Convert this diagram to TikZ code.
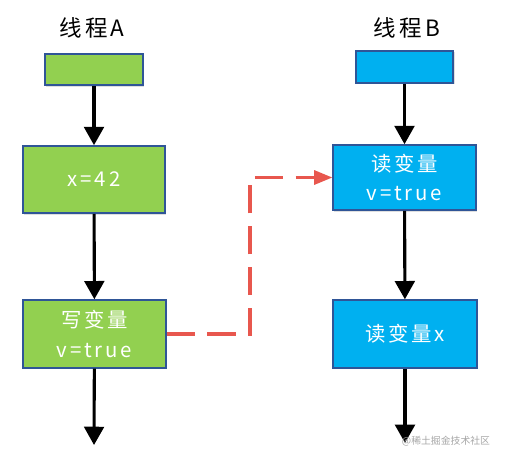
\documentclass[tikz,border=0pt]{standalone}
\usepackage{fontspec}
\newfontfamily\cjk{Noto Sans CJK SC}
\newfontfamily\cjkwide{Noto Sans CJK SC}[LetterSpace=14]
\usetikzlibrary{positioning,arrows.meta,shadows}
\definecolor{threadgreen}{HTML}{92D050}
\definecolor{threadblue}{HTML}{00B0F0}
\definecolor{boxedge}{HTML}{2F5597}
\definecolor{flowred}{HTML}{E8574E}
\tikzset{
  title/.style={font=\cjkwide\fontsize{16}{18}\selectfont},
  box/.style={draw=boxedge,line width=1pt,text=white,align=center,
    font=\cjkwide\fontsize{14.5}{21}\selectfont,drop shadow={opacity=0.25,shadow xshift=1pt,shadow yshift=-1pt}},
  greenbox/.style={box,fill=threadgreen},
  bluebox/.style={box,fill=threadblue},
  flow/.style={->,line width=2.2pt},
  signal/.style={->,line width=2.2pt,draw=flowred,dash pattern=on 20pt off 9pt,
    >={Triangle[width=10pt,length=13pt]}}
}
\begin{document}
\begin{tikzpicture}[x=0.025cm,y=-0.025cm,>={Triangle[width=14pt,length=13pt]}]
        \useasboundingbox (0,0) rectangle (505,460);
        % thread A
        \node[title] (titleA) at (92,28) {线程A};
        \node[greenbox,minimum width=2.45cm,minimum height=0.78cm] (startA) at (94,69.5) {};
        \node[greenbox,minimum width=3.55cm,minimum height=1.68cm] (assign) at (94,179.5) {x=42};
        \node[greenbox,minimum width=3.57cm,minimum height=1.7cm] (write) at (94.5,334) {写变量\\v=true};
        \coordinate (endA) at (94,445);
        % thread B
        \node[title] (titleB) at (407,28) {线程B};
        \node[bluebox,minimum width=2.43cm,minimum height=0.8cm] (startB) at (404.5,67) {};
        \node[bluebox,minimum width=3.57cm,minimum height=1.63cm] (readv) at (404.5,177.5) {读变量\\v=true};
        \node[bluebox,minimum width=3.6cm,minimum height=1.7cm] (readx) at (405,334) {读变量x};
        \coordinate (endB) at (405,443);
        \coordinate (bend) at (250,250);
        \draw[flow] (startA) -- (assign);
        \draw[flow] (assign) -- (write);
        \draw[flow] (write) -- (endA);
        \draw[flow] (startB) -- (readv);
        \draw[flow] (readv) -- (readx);
        \draw[flow] (readx) -- (endB);
        % happens-before
        \draw[signal] (write.east) -| (bend) |- (readv.west);
        \node[text=black!35,font=\cjk\fontsize{7}{8}\selectfont] (mark) at (446,441) {@稀土掘金技术社区};
\end{tikzpicture}
\end{document}
